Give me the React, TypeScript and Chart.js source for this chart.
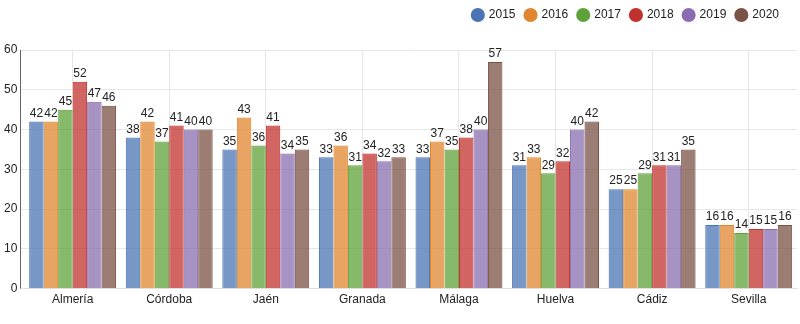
import React, { useEffect, useRef } from "react";
import { Chart, registerables } from "chart.js";

Chart.register(...registerables);

const categories = ["Almería", "Córdoba", "Jaén", "Granada", "Málaga", "Huelva", "Cádiz", "Sevilla"];
const seriesNames = ["2015", "2016", "2017", "2018", "2019", "2020"];
const v2015 = [42, 38, 35, 33, 33, 31, 25, 16];
const v2016 = [42, 42, 43, 36, 37, 33, 25, 16];
const v2017 = [45, 37, 36, 31, 35, 29, 29, 14];
const v2018 = [52, 41, 41, 34, 38, 32, 31, 15];
const v2019 = [47, 40, 34, 32, 40, 40, 31, 15];
const v2020 = [46, 40, 35, 33, 57, 42, 35, 16];
const seriesValues = [v2015, v2016, v2017, v2018, v2019, v2020];
const colors = ["#4a74b4", "#e0862e", "#5fa23a", "#c0312e", "#8a6db0", "#7a5246"];
const yTicks = [0, 10, 20, 30, 40, 50, 60];

const FONT = "'Liberation Sans', Arial, sans-serif";

function hexA(hex: string, a: number) {
  const n = parseInt(hex.slice(1), 16);
  return `rgba(${(n >> 16) & 255},${(n >> 8) & 255},${n & 255},${a})`;
}

const labelPlugin = {
  id: "barLabels",
  beforeDatasetsDraw(chart: any) {
    const ctx = chart.ctx;
    const a = chart.chartArea;
    ctx.save();
    ctx.strokeStyle = "#666";
    ctx.lineWidth = 1;
    ctx.beginPath();
    const x = Math.round(a.left - 4) + 0.5;
    ctx.moveTo(x, a.top);
    ctx.lineTo(x, a.bottom);
    ctx.stroke();
    ctx.restore();
  },
  afterDatasetsDraw(chart: any) {
    const ctx = chart.ctx;
    ctx.save();
    ctx.font = `12px ${FONT}`;
    ctx.fillStyle = "#222";
    ctx.textAlign = "center";
    ctx.textBaseline = "bottom";
    chart.data.datasets.forEach((ds: any, i: number) => {
      const meta = chart.getDatasetMeta(i);
      meta.data.forEach((bar: any, j: number) => {
        ctx.fillText(String(ds.data[j]), bar.x, bar.y - 2);
      });
    });
    ctx.restore();
  },
};

const legendSpacePlugin = {
  id: "legendSpace",
  beforeInit(chart: any) {
    const legend = chart.legend;
    if (!legend) return;
    const origFit = legend.fit;
    legend.fit = function () {
      origFit.call(this);
      this.height += 19;
      if (this.lineWidths && this.lineWidths.length) this.lineWidths[0] += 8;
    };
  },
};

export default function App() {
  const ref = useRef<HTMLCanvasElement>(null);
  useEffect(() => {
    document.body.style.margin = "0";
    const chart = new Chart(ref.current!, {
      type: "bar",
      data: {
        labels: categories,
        datasets: seriesNames.map((name, i) => ({
          label: name,
          data: seriesValues[i],
          backgroundColor: hexA(colors[i], 0.75),
          borderColor: colors[i],
          borderWidth: 1,
          barPercentage: 1,
          categoryPercentage: 0.9,
        })),
      },
      options: {
        animation: false,
        responsive: false,
        maintainAspectRatio: false,
        layout: { padding: { left: 1, right: 3, top: -1, bottom: 13 } },
        plugins: {
          legend: {
            position: "top",
            align: "end",
            labels: {
              usePointStyle: true,
              pointStyle: "circle",
              boxWidth: 10,
              boxHeight: 10,
              padding: 10,
              color: "#222",
              font: { family: FONT, size: 12 },
              generateLabels: (chart: any) => {
                const items = Chart.defaults.plugins.legend.labels.generateLabels(chart);
                return items.map((it: any, i: number) => ({
                  ...it,
                  fillStyle: colors[i],
                  strokeStyle: colors[i],
                  lineWidth: 0,
                }));
              },
            },
          },
          tooltip: { enabled: false },
        },
        scales: {
          x: {
            grid: { offset: false, color: "#e6e6e6", drawTicks: false },
            border: { color: "#e0e0e0" },
            ticks: { color: "#222", font: { family: FONT, size: 12 }, padding: 4 },
          },
          y: {
            min: 0,
            max: 60,
            afterBuildTicks: (axis: any) => {
              axis.ticks = yTicks.map((v) => ({ value: v }));
            },
            grid: { color: "#e6e6e6", drawTicks: true, tickLength: 4 },
            border: { display: false },
            ticks: { color: "#222", font: { family: FONT, size: 12 }, padding: 3 },
          },
        },
      },
      plugins: [legendSpacePlugin, labelPlugin],
    });
    return () => chart.destroy();
  }, []);
  return (
    <div style={{ width: 800, height: 324 }}>
      <canvas ref={ref} width={800} height={324} style={{ display: "block" }} />
    </div>
  );
}
